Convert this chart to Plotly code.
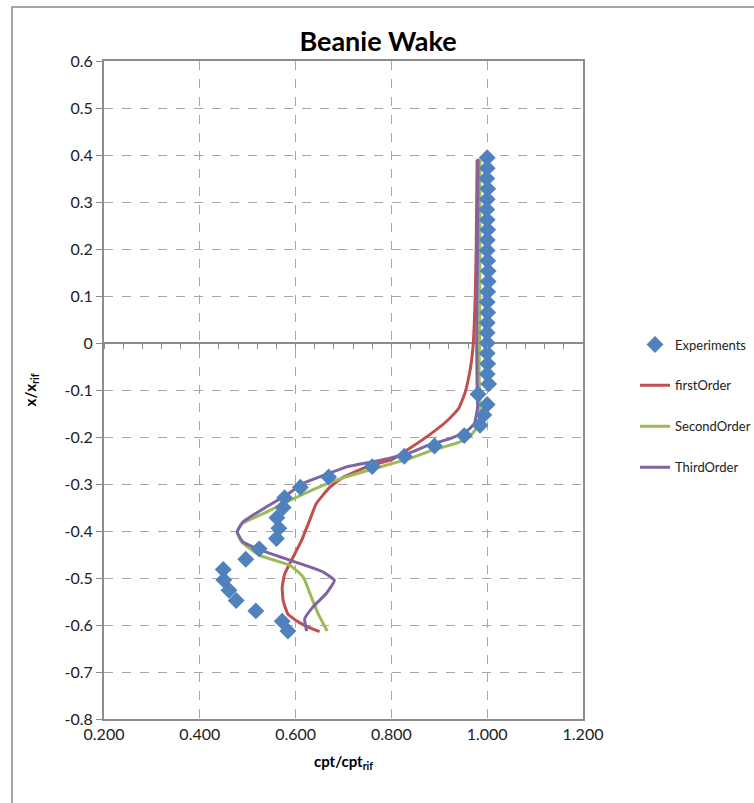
import plotly.graph_objects as go

# ---------------- data ----------------
exp_x = [1.000, 1.000, 0.999, 1.001, 1.000, 0.999, 1.000, 1.001, 1.000, 1.000,
         1.001, 1.002, 1.002, 1.001, 1.000, 1.001, 1.000, 1.000, 1.000, 1.000,
         1.001, 1.000, 1.003,
         0.981, 1.000, 0.993, 0.985, 0.952, 0.890, 0.827, 0.760, 0.669, 0.610,
         0.577, 0.574, 0.561, 0.565, 0.560, 0.524, 0.496, 0.449, 0.450, 0.461,
         0.476, 0.517, 0.572, 0.584]
exp_y = [0.394, 0.372, 0.350, 0.328, 0.306, 0.284, 0.262, 0.241, 0.219, 0.197,
         0.175, 0.153, 0.131, 0.109, 0.087, 0.065, 0.043, 0.022, 0.000, -0.022,
         -0.044, -0.066, -0.087,
         -0.109, -0.131, -0.153, -0.175, -0.197, -0.219, -0.241, -0.263, -0.285, -0.307,
         -0.329, -0.350, -0.372, -0.394, -0.416, -0.438, -0.460, -0.482, -0.504, -0.526,
         -0.548, -0.570, -0.592, -0.613]

first_x = [0.979, 0.978, 0.977, 0.975, 0.971, 0.967, 0.963, 0.954, 0.940, 0.916,
           0.880, 0.840, 0.803, 0.747, 0.699, 0.671, 0.643, 0.629, 0.612, 0.591,
           0.577, 0.572, 0.574, 0.584, 0.608, 0.636, 0.650]
first_y = [0.390, 0.300, 0.200, 0.100, 0.000, -0.040, -0.065, -0.105, -0.140, -0.166,
           -0.195, -0.223, -0.247, -0.264, -0.286, -0.307, -0.342, -0.378, -0.421, -0.463,
           -0.492, -0.520, -0.548, -0.577, -0.595, -0.609, -0.614]

second_x = [0.985, 0.985, 0.984, 0.983, 0.985, 0.979, 0.966, 0.942, 0.886, 0.838,
            0.789, 0.705, 0.650, 0.588, 0.539, 0.487, 0.478, 0.487, 0.525, 0.588,
            0.616, 0.633, 0.647, 0.666]
second_y = [0.390, 0.200, 0.000, -0.065, -0.150, -0.179, -0.196, -0.211, -0.228, -0.246,
            -0.260, -0.285, -0.306, -0.335, -0.360, -0.385, -0.402, -0.423, -0.452, -0.473,
            -0.498, -0.541, -0.576, -0.613]

third_x = [0.981, 0.980, 0.978, 0.979, 0.980, 0.973, 0.955, 0.921, 0.876, 0.838,
           0.775, 0.705, 0.650, 0.615, 0.580, 0.532, 0.490, 0.478, 0.490, 0.539,
           0.608, 0.657, 0.681, 0.664, 0.636, 0.619, 0.623]
third_y = [0.392, 0.200, 0.000, -0.100, -0.136, -0.172, -0.189, -0.204, -0.218, -0.234,
           -0.250, -0.264, -0.285, -0.299, -0.324, -0.353, -0.381, -0.402, -0.423, -0.445,
           -0.469, -0.487, -0.505, -0.533, -0.562, -0.587, -0.613]

x_ticks = [0.2, 0.4, 0.6, 0.8, 1.0, 1.2]
x_ticklabels = ["0.200", "0.400", "0.600", "0.800", "1.000", "1.200"]
y_ticks = [0.6, 0.5, 0.4, 0.3, 0.2, 0.1, 0.0, -0.1, -0.2, -0.3, -0.4, -0.5, -0.6, -0.7, -0.8]
y_ticklabels = ["0.6", "0.5", "0.4", "0.3", "0.2", "0.1", "0", "-0.1", "-0.2", "-0.3",
                "-0.4", "-0.5", "-0.6", "-0.7", "-0.8"]

FONT = "Lato"
W, H = 754, 803
ML, MR, MT, MB = 104, 171, 61, 84
pw = W - ML - MR
ph = H - MT - MB

fig = go.Figure()

line_style = dict(width=3, shape="spline", smoothing=0.4)
fig.add_trace(go.Scatter(x=first_x, y=first_y, mode="lines", name="firstOrder",
                         line=dict(color="#C0504D", **line_style),
                         legendrank=2, legendgroup="g2"))
fig.add_trace(go.Scatter(x=second_x, y=second_y, mode="lines", name="SecondOrder",
                         line=dict(color="#9BBB59", **line_style),
                         legendrank=3, legendgroup="g3"))
fig.add_trace(go.Scatter(x=third_x, y=third_y, mode="lines", name="ThirdOrder",
                         line=dict(color="#8064A2", **line_style),
                         legendrank=4, legendgroup="g4"))
fig.add_trace(go.Scatter(x=exp_x, y=exp_y, mode="markers", name="Experiments",
                         marker=dict(symbol="diamond", size=13, color="#4F81BD",
                                     line=dict(width=0)),
                         legendrank=1, legendgroup="g1"))
# helper trace for the axis drawn through y = 0
fig.add_trace(go.Scatter(x=[0.2], y=[0], xaxis="x2", mode="markers",
                         marker=dict(opacity=0), showlegend=False, hoverinfo="skip"))

fig.update_layout(
    width=W, height=H,
    margin=dict(l=ML, r=MR, t=MT, b=MB, autoexpand=False),
    paper_bgcolor="white", plot_bgcolor="white",
    font=dict(family=FONT, size=16, color="#222222"),
    title=dict(text="<b>Beanie Wake</b>", x=(378) / W, xanchor="center", y=1 - 42 / H,
               yanchor="middle", font=dict(family=FONT, size=27, color="black")),
    showlegend=True,
    legend=dict(x=(635 - ML) / pw, y=(H - MB - 406) / ph, xanchor="left", yanchor="middle",
                font=dict(family=FONT, size=13, color="#222222"),
                tracegroupgap=21, bgcolor="rgba(0,0,0,0)", traceorder="grouped",
                itemwidth=30),
    xaxis=dict(range=[0.2, 1.2], tickvals=x_ticks, ticktext=x_ticklabels,
               showgrid=True, gridcolor="#A6A6A6", griddash="dash", gridwidth=1,
               showline=True, linecolor="#8C8C8C", linewidth=2, mirror=True,
               ticks="", zeroline=False,
               title=dict(text="<b>cpt/cpt<sub>rif</sub></b>", standoff=14,
                          font=dict(family=FONT, size=15, color="black"))),
    xaxis2=dict(range=[0.2, 1.2], overlaying="x", anchor="free",
                position=0.8 / 1.4, side="bottom",
                tick0=0.2, dtick=0.04, ticks="outside", ticklen=5, tickwidth=1,
                tickcolor="#8C8C8C", showticklabels=False, showgrid=False,
                showline=False, zeroline=False),
    yaxis=dict(range=[-0.8, 0.6], tickvals=y_ticks, ticktext=y_ticklabels,
               showgrid=True, gridcolor="#A6A6A6", griddash="dash", gridwidth=1,
               showline=True, linecolor="#8C8C8C", linewidth=2, mirror=True,
               ticks="outside", ticklen=6, tickcolor="#8C8C8C",
               zeroline=True, zerolinecolor="#8C8C8C", zerolinewidth=1.5,
               title=dict(text="<b>x/x<sub>rif</sub></b>", standoff=24,
                          font=dict(family=FONT, size=15, color="black"))),
)

# outer chart frame (left and top edges visible inside the picture)
fig.add_shape(type="rect", xref="paper", yref="paper",
              x0=(12 - ML) / pw, x1=(W + 30 - ML) / pw,
              y0=-(MB + 30) / ph, y1=(H - MB - 7) / ph,
              line=dict(color="#A6A6A6", width=2), fillcolor="rgba(0,0,0,0)", layer="below")

fig.write_html("out.html", config={"displayModeBar": False},
               post_script="document.body.style.margin='0';document.body.style.overflow='hidden';")
